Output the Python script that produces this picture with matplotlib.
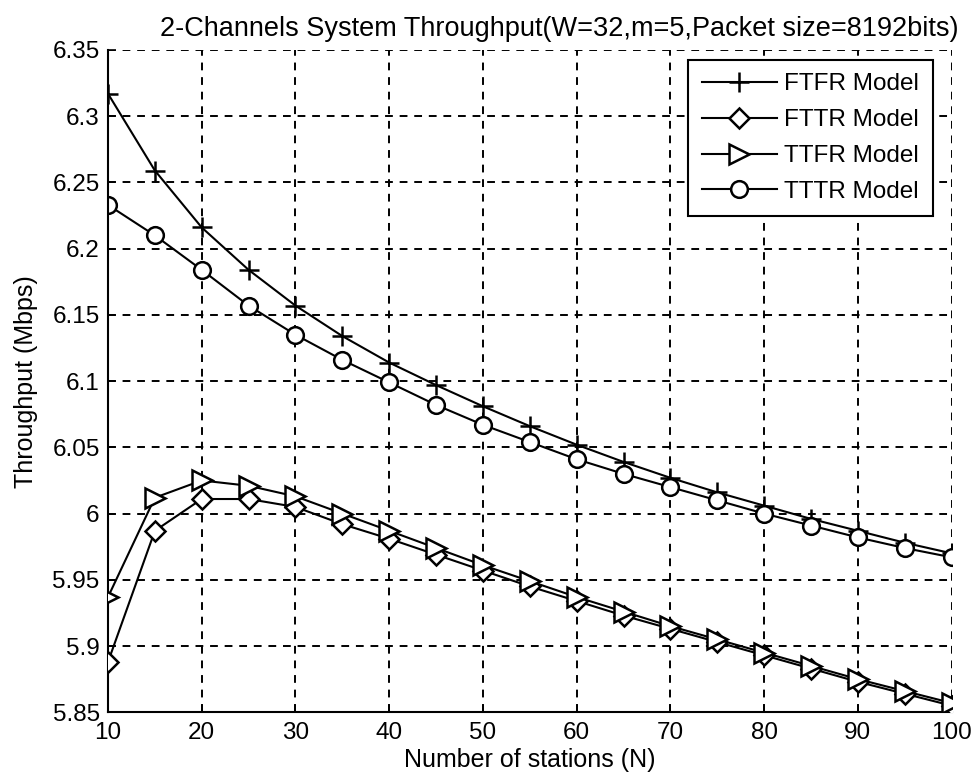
import matplotlib
matplotlib.use("Agg")
import matplotlib.pyplot as plt

plt.rcParams['font.family'] = ['Liberation Sans', 'DejaVu Sans']

stations = [10, 15, 20, 25, 30, 35, 40, 45, 50, 55, 60, 65, 70, 75, 80, 85, 90, 95, 100]
ftfr = [6.317, 6.259, 6.216, 6.184, 6.157, 6.134, 6.114, 6.097, 6.081, 6.066,
        6.052, 6.039, 6.027, 6.016, 6.006, 5.996, 5.987, 5.978, 5.970]
fttr = [5.888, 5.987, 6.011, 6.011, 6.005, 5.992, 5.981, 5.969, 5.957, 5.945,
        5.934, 5.923, 5.913, 5.903, 5.893, 5.883, 5.873, 5.864, 5.855]
ttfr = [5.937, 6.012, 6.025, 6.021, 6.013, 6.000, 5.987, 5.974, 5.961, 5.949,
        5.937, 5.926, 5.915, 5.905, 5.895, 5.885, 5.875, 5.866, 5.857]
tttr = [6.233, 6.210, 6.184, 6.157, 6.135, 6.116, 6.099, 6.082, 6.067, 6.054,
        6.041, 6.030, 6.020, 6.010, 6.000, 5.991, 5.982, 5.974, 5.967]

xticks = [10, 20, 30, 40, 50, 60, 70, 80, 90, 100]
yticks = [5.85, 5.9, 5.95, 6.0, 6.05, 6.1, 6.15, 6.2, 6.25, 6.3, 6.35]
ytick_labels = ['5.85', '5.9', '5.95', '6', '6.05', '6.1', '6.15', '6.2', '6.25', '6.3', '6.35']

fig = plt.figure(figsize=(9.73, 7.81), dpi=100)
ax = fig.add_axes([0.111, 0.088, 0.867, 0.848])

common = dict(color='black', linewidth=1.5, markerfacecolor='white',
              markeredgecolor='black', markeredgewidth=1.8)
ax.plot(stations, ftfr, marker='+', markersize=15, label='FTFR Model', **common)
ax.plot(stations, fttr, marker='D', markersize=10, label='FTTR Model', zorder=3, **common)
ax.plot(stations, ttfr, marker='>', markersize=14, label='TTFR Model', zorder=3, **common)
ax.plot(stations, tttr, marker='o', markersize=12, label='TTTR Model', **common)

ax.set_xlim(10, 100)
ax.set_ylim(5.85, 6.35)
ax.set_xticks(xticks)
ax.set_yticks(yticks)
ax.set_yticklabels(ytick_labels)
ax.tick_params(labelsize=17.5, direction='in', length=6, width=1.2)
ax.tick_params(axis='x', pad=7)
ax.tick_params(axis='y', pad=6)
ax.grid(True, linestyle=(0, (4, 3.5)), color='black', linewidth=1.4)
for s in ['top', 'right']:
    ax.spines[s].set_visible(False)
for s in ['left', 'bottom']:
    ax.spines[s].set_linewidth(1.5)

ax.set_title('2-Channels System Throughput(W=32,m=5,Packet size=8192bits)',
             fontsize=19.5, pad=10, x=0.535)
ax.set_xlabel('Number of stations (N)', fontsize=18, labelpad=3)
ax.set_ylabel('Throughput (Mbps)', fontsize=18, labelpad=10)

leg = ax.legend(loc='upper right', bbox_to_anchor=(0.9775, 0.985), fontsize=17.5,
                fancybox=False, framealpha=1, edgecolor='black', handlelength=3.1,
                borderaxespad=0.0, labelspacing=0.57, handletextpad=0.3, borderpad=0.55)
leg.get_frame().set_linewidth(1.5)

fig.savefig('out.png', dpi=100)
